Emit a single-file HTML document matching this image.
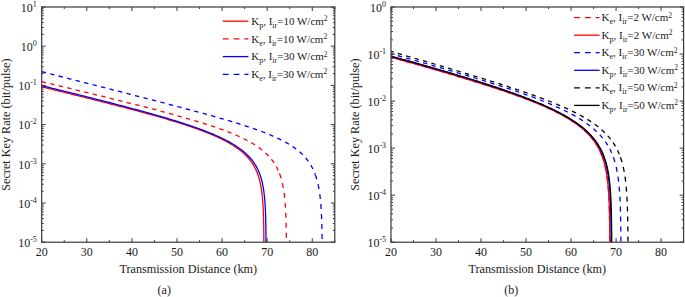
<!DOCTYPE html><html><head><meta charset="utf-8"><style>html,body{margin:0;padding:0;background:#fff;}svg{display:block;}</style></head><body>
<svg width="685" height="297" viewBox="0 0 685 297">
<rect width="685" height="297" fill="#fff"/>
<clipPath id="ca"><rect x="41.7" y="6.0" width="293.1" height="236.2"/></clipPath>
<g clip-path="url(#ca)" fill="none" stroke-linejoin="round">
<path d="M41.70,86.84 L43.45,87.27 L45.21,87.70 L46.96,88.12 L48.72,88.55 L50.47,88.98 L52.23,89.41 L53.98,89.83 L55.73,90.26 L57.49,90.69 L59.24,91.12 L61.00,91.55 L62.75,91.98 L64.51,92.41 L66.26,92.84 L68.01,93.27 L69.77,93.71 L71.52,94.14 L73.28,94.57 L75.03,95.00 L76.79,95.44 L78.54,95.87 L80.29,96.31 L82.05,96.74 L83.80,97.18 L85.56,97.61 L87.31,98.05 L89.07,98.49 L90.82,98.93 L92.57,99.37 L94.33,99.81 L96.08,100.25 L97.84,100.69 L99.59,101.13 L101.35,101.57 L103.10,102.02 L104.85,102.46 L106.61,102.91 L108.36,103.35 L110.12,103.80 L111.87,104.25 L113.62,104.70 L115.38,105.15 L117.13,105.60 L118.89,106.05 L120.64,106.51 L122.40,106.96 L124.15,107.42 L125.90,107.88 L127.66,108.34 L129.41,108.80 L131.17,109.26 L132.92,109.73 L134.68,110.20 L136.43,110.66 L138.18,111.13 L139.94,111.61 L141.69,112.08 L143.45,112.56 L145.20,113.04 L146.96,113.52 L148.71,114.00 L150.46,114.49 L152.22,114.98 L153.97,115.47 L155.73,115.96 L157.48,116.46 L159.24,116.96 L160.99,117.46 L162.74,117.97 L164.50,118.48 L166.25,119.00 L168.01,119.52 L169.76,120.04 L171.52,120.57 L173.27,121.10 L175.02,121.63 L176.78,122.17 L178.53,122.72 L180.29,123.27 L182.04,123.83 L183.80,124.40 L185.55,124.97 L187.30,125.55 L189.06,126.13 L190.81,126.72 L192.57,127.32 L194.32,127.93 L196.08,128.55 L197.83,129.18 L199.58,129.82 L201.34,130.47 L203.09,131.13 L204.85,131.80 L206.60,132.49 L208.36,133.19 L210.11,133.90 L211.86,134.63 L213.62,135.38 L215.37,136.15 L217.13,136.93 L218.88,137.74 L220.64,138.58 L222.39,139.43 L224.14,140.32 L225.90,141.24 L227.65,142.19 L229.41,143.18 L231.16,144.21 L232.91,145.28 L234.67,146.41 L236.42,147.60 L238.18,148.85 L239.93,150.18 L241.69,151.60 L243.44,153.11 L245.19,154.75 L246.95,156.53 L248.70,158.49 L250.46,160.67 L250.46,160.67 L251.51,162.11 L252.48,163.54 L253.38,164.97 L254.20,166.39 L254.96,167.80 L255.66,169.21 L256.31,170.61 L256.91,172.01 L257.46,173.41 L257.97,174.80 L258.44,176.19 L258.87,177.58 L259.27,178.96 L259.63,180.35 L259.97,181.72 L260.28,183.10 L260.57,184.48 L260.84,185.85 L261.08,187.22 L261.31,188.60 L261.52,189.97 L261.71,191.33 L261.89,192.70 L262.05,194.07 L262.20,195.43 L262.34,196.80 L262.47,198.16 L262.58,199.52 L262.69,200.89 L262.79,202.25 L262.89,203.61 L262.97,204.97 L263.05,206.33 L263.12,207.69 L263.19,209.05 L263.25,210.41 L263.31,211.77 L263.36,213.13 L263.41,214.48 L263.46,215.84 L263.50,217.20 L263.53,218.56 L263.57,219.91 L263.60,221.27 L263.63,222.63 L263.66,223.98 L263.68,225.34 L263.71,226.69 L263.73,228.05 L263.75,229.41 L263.77,230.76 L263.78,232.12 L263.80,233.47 L263.81,234.83 L263.83,236.18 L263.84,237.54 L263.85,238.89 L263.86,240.25 L263.87,241.60 L263.88,242.96" stroke="#ff0000" stroke-width="1.3"/>
<path d="M41.70,81.58 L43.64,82.05 L45.59,82.52 L47.53,82.99 L49.48,83.46 L51.42,83.93 L53.36,84.40 L55.31,84.87 L57.25,85.34 L59.20,85.81 L61.14,86.28 L63.08,86.75 L65.03,87.22 L66.97,87.69 L68.91,88.17 L70.86,88.64 L72.80,89.11 L74.75,89.58 L76.69,90.06 L78.63,90.53 L80.58,91.00 L82.52,91.48 L84.47,91.95 L86.41,92.43 L88.35,92.90 L90.30,93.38 L92.24,93.85 L94.19,94.33 L96.13,94.81 L98.07,95.28 L100.02,95.76 L101.96,96.24 L103.90,96.72 L105.85,97.20 L107.79,97.68 L109.74,98.16 L111.68,98.64 L113.62,99.12 L115.57,99.61 L117.51,100.09 L119.46,100.57 L121.40,101.06 L123.34,101.54 L125.29,102.03 L127.23,102.52 L129.18,103.01 L131.12,103.50 L133.06,103.99 L135.01,104.48 L136.95,104.98 L138.89,105.47 L140.84,105.97 L142.78,106.46 L144.73,106.96 L146.67,107.46 L148.61,107.97 L150.56,108.47 L152.50,108.98 L154.45,109.48 L156.39,109.99 L158.33,110.50 L160.28,111.02 L162.22,111.53 L164.17,112.05 L166.11,112.57 L168.05,113.10 L170.00,113.62 L171.94,114.15 L173.88,114.69 L175.83,115.22 L177.77,115.76 L179.72,116.30 L181.66,116.85 L183.60,117.40 L185.55,117.96 L187.49,118.51 L189.44,119.08 L191.38,119.65 L193.32,120.22 L195.27,120.80 L197.21,121.39 L199.16,121.98 L201.10,122.58 L203.04,123.18 L204.99,123.79 L206.93,124.42 L208.87,125.04 L210.82,125.68 L212.76,126.33 L214.71,126.99 L216.65,127.66 L218.59,128.34 L220.54,129.03 L222.48,129.73 L224.43,130.45 L226.37,131.19 L228.31,131.94 L230.26,132.71 L232.20,133.50 L234.15,134.31 L236.09,135.14 L238.03,135.99 L239.98,136.87 L241.92,137.79 L243.86,138.73 L245.81,139.71 L247.75,140.72 L249.70,141.79 L251.64,142.89 L253.58,144.06 L255.53,145.28 L257.47,146.57 L259.42,147.95 L261.36,149.41 L263.30,150.98 L265.25,152.67 L267.19,154.52 L269.14,156.55 L271.08,158.80 L273.02,161.35 L273.02,161.35 L274.08,162.87 L275.05,164.40 L275.94,165.92 L276.77,167.43 L277.53,168.95 L278.23,170.46 L278.88,171.97 L279.47,173.47" stroke="#ff0000" stroke-width="1.3" stroke-dasharray="4.4 4.35" stroke-dashoffset="0"/>
<path d="M279.47,173.47 L280.03,174.98 L280.53,176.48 L281.00,177.98 L281.43,179.48 L281.83,180.98 L282.20,182.47 L282.54,183.97 L282.85,185.46 L283.14,186.96 L283.40,188.45 L283.65,189.94 L283.87,191.43 L284.08,192.92 L284.27,194.41 L284.45,195.90 L284.61,197.39 L284.77,198.88 L284.90,200.37 L285.03,201.86 L285.15,203.35 L285.26,204.83 L285.36,206.32 L285.45,207.81 L285.54,209.29 L285.62,210.78 L285.69,212.27 L285.76,213.75 L285.82,215.24 L285.88,216.72 L285.93,218.21 L285.98,219.69 L286.02,221.18 L286.06,222.66 L286.10,224.15 L286.14,225.63 L286.17,227.12 L286.20,228.60 L286.23,230.09 L286.25,231.57 L286.27,233.06 L286.30,234.54 L286.32,236.03 L286.33,237.51 L286.35,238.99 L286.37,240.48 L286.38,241.96 L286.39,243.45" stroke="#ff0000" stroke-width="1.3" stroke-dasharray="5 5" stroke-dashoffset="0"/>
<path d="M41.70,85.68 L43.47,86.11 L45.24,86.55 L47.02,86.98 L48.79,87.42 L50.56,87.85 L52.33,88.29 L54.11,88.72 L55.88,89.16 L57.65,89.60 L59.42,90.03 L61.20,90.47 L62.97,90.91 L64.74,91.35 L66.51,91.79 L68.29,92.23 L70.06,92.67 L71.83,93.11 L73.60,93.55 L75.38,93.99 L77.15,94.43 L78.92,94.87 L80.69,95.32 L82.47,95.76 L84.24,96.21 L86.01,96.65 L87.78,97.10 L89.56,97.54 L91.33,97.99 L93.10,98.44 L94.87,98.89 L96.65,99.33 L98.42,99.78 L100.19,100.24 L101.96,100.69 L103.73,101.14 L105.51,101.59 L107.28,102.05 L109.05,102.50 L110.82,102.96 L112.60,103.42 L114.37,103.88 L116.14,104.34 L117.91,104.80 L119.69,105.26 L121.46,105.73 L123.23,106.19 L125.00,106.66 L126.78,107.13 L128.55,107.60 L130.32,108.07 L132.09,108.54 L133.87,109.02 L135.64,109.49 L137.41,109.97 L139.18,110.45 L140.96,110.94 L142.73,111.42 L144.50,111.91 L146.27,112.40 L148.05,112.89 L149.82,113.38 L151.59,113.88 L153.36,114.38 L155.14,114.88 L156.91,115.39 L158.68,115.90 L160.45,116.41 L162.23,116.92 L164.00,117.44 L165.77,117.97 L167.54,118.49 L169.31,119.02 L171.09,119.56 L172.86,120.10 L174.63,120.64 L176.40,121.19 L178.18,121.74 L179.95,122.30 L181.72,122.87 L183.49,123.44 L185.27,124.01 L187.04,124.60 L188.81,125.19 L190.58,125.79 L192.36,126.39 L194.13,127.01 L195.90,127.63 L197.67,128.26 L199.45,128.90 L201.22,129.56 L202.99,130.22 L204.76,130.89 L206.54,131.58 L208.31,132.28 L210.08,132.99 L211.85,133.72 L213.63,134.47 L215.40,135.23 L217.17,136.02 L218.94,136.82 L220.72,137.64 L222.49,138.49 L224.26,139.37 L226.03,140.27 L227.80,141.20 L229.58,142.17 L231.35,143.18 L233.12,144.22 L234.89,145.32 L236.67,146.46 L238.44,147.67 L240.21,148.94 L241.98,150.29 L243.76,151.73 L245.53,153.27 L247.30,154.93 L249.07,156.74 L250.85,158.73 L252.62,160.94 L252.62,160.94 L253.67,162.38 L254.64,163.82 L255.54,165.25 L256.36,166.67 L257.12,168.08 L257.83,169.50 L258.47,170.90 L259.07,172.30 L259.62,173.70 L260.13,175.09 L260.60,176.48 L261.03,177.87 L261.43,179.26 L261.79,180.64 L262.13,182.02 L262.44,183.39 L262.73,184.77 L263.00,186.14 L263.24,187.51 L263.47,188.88 L263.68,190.25 L263.87,191.61 L264.05,192.98 L264.21,194.34 L264.36,195.70 L264.50,197.07 L264.63,198.43 L264.75,199.79 L264.86,201.15 L264.96,202.50 L265.05,203.86 L265.13,205.22 L265.21,206.58 L265.29,207.93 L265.35,209.29 L265.41,210.64 L265.47,212.00 L265.52,213.35 L265.57,214.71 L265.62,216.06 L265.66,217.42 L265.70,218.77 L265.73,220.12 L265.76,221.47 L265.79,222.83 L265.82,224.18 L265.85,225.53 L265.87,226.88 L265.89,228.24 L265.91,229.59 L265.93,230.94 L265.95,232.29 L265.96,233.64 L265.98,234.99 L265.99,236.34 L266.00,237.70 L266.01,239.05 L266.02,240.40 L266.03,241.75 L266.04,243.10" stroke="#0000ff" stroke-width="1.3"/>
<path d="M41.70,71.68 L43.94,72.25 L46.19,72.82 L48.43,73.39 L50.68,73.96 L52.92,74.54 L55.17,75.11 L57.41,75.68 L59.66,76.25 L61.90,76.83 L64.15,77.40 L66.39,77.97 L68.64,78.54 L70.88,79.12 L73.13,79.69 L75.37,80.26 L77.62,80.83 L79.86,81.41 L82.11,81.98 L84.35,82.55 L86.60,83.12 L88.84,83.70 L91.08,84.27 L93.33,84.84 L95.57,85.42 L97.82,85.99 L100.06,86.57 L102.31,87.14 L104.55,87.71 L106.80,88.29 L109.04,88.86 L111.29,89.44 L113.53,90.01 L115.78,90.59 L118.02,91.16 L120.27,91.74 L122.51,92.31 L124.76,92.89 L127.00,93.46 L129.25,94.04 L131.49,94.62 L133.74,95.19 L135.98,95.77 L138.22,96.35 L140.47,96.93 L142.71,97.51 L144.96,98.09 L147.20,98.67 L149.45,99.25 L151.69,99.83 L153.94,100.41 L156.18,100.99 L158.43,101.58 L160.67,102.16 L162.92,102.74 L165.16,103.33 L167.41,103.92 L169.65,104.50 L171.90,105.09 L174.14,105.68 L176.39,106.27 L178.63,106.86 L180.88,107.46 L183.12,108.05 L185.36,108.65 L187.61,109.25 L189.85,109.85 L192.10,110.45 L194.34,111.05 L196.59,111.66 L198.83,112.27 L201.08,112.88 L203.32,113.49 L205.57,114.11 L207.81,114.73 L210.06,115.35 L212.30,115.98 L214.55,116.61 L216.79,117.24 L219.04,117.88 L221.28,118.53 L223.53,119.18 L225.77,119.83 L228.01,120.49 L230.26,121.16 L232.50,121.83 L234.75,122.51 L236.99,123.20 L239.24,123.89 L241.48,124.60 L243.73,125.31 L245.97,126.04 L248.22,126.78 L250.46,127.53 L252.71,128.29 L254.95,129.07 L257.20,129.87 L259.44,130.68 L261.69,131.51 L263.93,132.36 L266.18,133.24 L268.42,134.14 L270.67,135.07 L272.91,136.03 L275.15,137.02 L277.40,138.05 L279.64,139.13 L281.89,140.25 L284.13,141.43 L286.38,142.67 L288.62,143.98 L290.87,145.37 L293.11,146.85 L295.36,148.44 L297.60,150.16 L299.85,152.04 L302.09,154.10 L304.34,156.40 L306.58,159.00 L308.83,161.99 L308.83,161.99 L309.88,163.57 L310.85,165.15 L311.74,166.72 L312.57,168.30 L313.33,169.87 L314.03,171.45 L314.68,173.03 L315.28,174.60" stroke="#0000ff" stroke-width="1.3" stroke-dasharray="4.4 4.35" stroke-dashoffset="0"/>
<path d="M315.28,174.60 L315.83,176.18 L316.34,177.76 L316.80,179.33 L317.24,180.91 L317.63,182.49 L318.00,184.07 L318.34,185.64 L318.65,187.22 L318.94,188.80 L319.21,190.38 L319.45,191.96 L319.68,193.54 L319.88,195.12 L320.08,196.70 L320.25,198.28 L320.42,199.86 L320.57,201.44 L320.71,203.03 L320.84,204.61 L320.95,206.19 L321.06,207.77 L321.16,209.35 L321.26,210.94 L321.34,212.52 L321.42,214.10 L321.49,215.69 L321.56,217.27 L321.62,218.85 L321.68,220.43 L321.73,222.02 L321.78,223.60 L321.82,225.19 L321.87,226.77 L321.90,228.35 L321.94,229.94 L321.97,231.52 L322.00,233.10 L322.03,234.69 L322.05,236.27 L322.08,237.86 L322.10,239.44 L322.12,241.02 L322.14,242.61 L322.15,244.19" stroke="#0000ff" stroke-width="1.3" stroke-dasharray="5 5" stroke-dashoffset="0"/>
</g>
<rect x="41.7" y="7.0" width="293.1" height="235.2" fill="none" stroke="#3a3a3a" stroke-width="1.2"/>
<path d="M41.70,242.2v-4M41.70,7.0v4M64.25,242.2v-2M64.25,7.0v2M86.79,242.2v-4M86.79,7.0v4M109.34,242.2v-2M109.34,7.0v2M131.88,242.2v-4M131.88,7.0v4M154.43,242.2v-2M154.43,7.0v2M176.98,242.2v-4M176.98,7.0v4M199.52,242.2v-2M199.52,7.0v2M222.07,242.2v-4M222.07,7.0v4M244.62,242.2v-2M244.62,7.0v2M267.16,242.2v-4M267.16,7.0v4M289.71,242.2v-2M289.71,7.0v2M312.25,242.2v-4M312.25,7.0v4M334.80,242.2v-2M334.80,7.0v2M41.7,242.20h4M334.8,242.20h-4M41.7,230.40h2M334.8,230.40h-2M41.7,223.50h2M334.8,223.50h-2M41.7,218.60h2M334.8,218.60h-2M41.7,214.80h2M334.8,214.80h-2M41.7,211.70h2M334.8,211.70h-2M41.7,209.07h2M334.8,209.07h-2M41.7,206.80h2M334.8,206.80h-2M41.7,204.79h2M334.8,204.79h-2M41.7,203.00h4M334.8,203.00h-4M41.7,191.20h2M334.8,191.20h-2M41.7,184.30h2M334.8,184.30h-2M41.7,179.40h2M334.8,179.40h-2M41.7,175.60h2M334.8,175.60h-2M41.7,172.50h2M334.8,172.50h-2M41.7,169.87h2M334.8,169.87h-2M41.7,167.60h2M334.8,167.60h-2M41.7,165.59h2M334.8,165.59h-2M41.7,163.80h4M334.8,163.80h-4M41.7,152.00h2M334.8,152.00h-2M41.7,145.10h2M334.8,145.10h-2M41.7,140.20h2M334.8,140.20h-2M41.7,136.40h2M334.8,136.40h-2M41.7,133.30h2M334.8,133.30h-2M41.7,130.67h2M334.8,130.67h-2M41.7,128.40h2M334.8,128.40h-2M41.7,126.39h2M334.8,126.39h-2M41.7,124.60h4M334.8,124.60h-4M41.7,112.80h2M334.8,112.80h-2M41.7,105.90h2M334.8,105.90h-2M41.7,101.00h2M334.8,101.00h-2M41.7,97.20h2M334.8,97.20h-2M41.7,94.10h2M334.8,94.10h-2M41.7,91.47h2M334.8,91.47h-2M41.7,89.20h2M334.8,89.20h-2M41.7,87.19h2M334.8,87.19h-2M41.7,85.40h4M334.8,85.40h-4M41.7,73.60h2M334.8,73.60h-2M41.7,66.70h2M334.8,66.70h-2M41.7,61.80h2M334.8,61.80h-2M41.7,58.00h2M334.8,58.00h-2M41.7,54.90h2M334.8,54.90h-2M41.7,52.27h2M334.8,52.27h-2M41.7,50.00h2M334.8,50.00h-2M41.7,47.99h2M334.8,47.99h-2M41.7,46.20h4M334.8,46.20h-4M41.7,34.40h2M334.8,34.40h-2M41.7,27.50h2M334.8,27.50h-2M41.7,22.60h2M334.8,22.60h-2M41.7,18.80h2M334.8,18.80h-2M41.7,15.70h2M334.8,15.70h-2M41.7,13.07h2M334.8,13.07h-2M41.7,10.80h2M334.8,10.80h-2M41.7,8.79h2M334.8,8.79h-2M41.7,7.00h4M334.8,7.00h-4" stroke="#3a3a3a" stroke-width="1.0" fill="none"/>
<text x="41.70" y="256.3" font-family="Liberation Serif, serif" font-size="12" text-anchor="middle" fill="#1a1a1a">20</text>
<text x="86.79" y="256.3" font-family="Liberation Serif, serif" font-size="12" text-anchor="middle" fill="#1a1a1a">30</text>
<text x="131.88" y="256.3" font-family="Liberation Serif, serif" font-size="12" text-anchor="middle" fill="#1a1a1a">40</text>
<text x="176.98" y="256.3" font-family="Liberation Serif, serif" font-size="12" text-anchor="middle" fill="#1a1a1a">50</text>
<text x="222.07" y="256.3" font-family="Liberation Serif, serif" font-size="12" text-anchor="middle" fill="#1a1a1a">60</text>
<text x="267.16" y="256.3" font-family="Liberation Serif, serif" font-size="12" text-anchor="middle" fill="#1a1a1a">70</text>
<text x="312.25" y="256.3" font-family="Liberation Serif, serif" font-size="12" text-anchor="middle" fill="#1a1a1a">80</text>
<text x="36.800000000000004" y="246.90" font-family="Liberation Serif, serif" font-size="12" text-anchor="end" fill="#1a1a1a">10<tspan font-size="8" dy="-5.0">-5</tspan></text>
<text x="36.800000000000004" y="207.70" font-family="Liberation Serif, serif" font-size="12" text-anchor="end" fill="#1a1a1a">10<tspan font-size="8" dy="-5.0">-4</tspan></text>
<text x="36.800000000000004" y="168.50" font-family="Liberation Serif, serif" font-size="12" text-anchor="end" fill="#1a1a1a">10<tspan font-size="8" dy="-5.0">-3</tspan></text>
<text x="36.800000000000004" y="129.30" font-family="Liberation Serif, serif" font-size="12" text-anchor="end" fill="#1a1a1a">10<tspan font-size="8" dy="-5.0">-2</tspan></text>
<text x="36.800000000000004" y="90.10" font-family="Liberation Serif, serif" font-size="12" text-anchor="end" fill="#1a1a1a">10<tspan font-size="8" dy="-5.0">-1</tspan></text>
<text x="36.800000000000004" y="50.90" font-family="Liberation Serif, serif" font-size="12" text-anchor="end" fill="#1a1a1a">10<tspan font-size="8" dy="-5.0">0</tspan></text>
<text x="36.800000000000004" y="11.70" font-family="Liberation Serif, serif" font-size="12" text-anchor="end" fill="#1a1a1a">10<tspan font-size="8" dy="-5.0">1</tspan></text>
<text x="188.25" y="272.7" font-family="Liberation Serif, serif" font-size="12.2" text-anchor="middle" fill="#1a1a1a">Transmission Distance (km)</text>
<text transform="translate(10.0,124.6) rotate(-90)" font-family="Liberation Serif, serif" font-size="12.2" text-anchor="middle" fill="#1a1a1a">Secret Key Rate (bit/pulse)</text>
<text x="164.25" y="293.7" font-family="Liberation Serif, serif" font-size="12" text-anchor="middle" fill="#1a1a1a">(a)</text>
<path d="M222.8,21.20H248.4" stroke="#ff0000" stroke-width="1.3"/>
<text x="251.2" y="24.80" font-family="Liberation Serif, serif" font-size="11" fill="#1a1a1a">K<tspan font-size="8" dy="3">p</tspan><tspan dy="-3">, I</tspan><tspan font-size="8" dy="3">ir</tspan><tspan dy="-3">=10 W/cm</tspan><tspan font-size="7.6" dy="-3.7">2</tspan></text>
<path d="M222.8,38.90H248.4" stroke="#ff0000" stroke-width="1.3" stroke-dasharray="5.8 5"/>
<text x="251.2" y="42.50" font-family="Liberation Serif, serif" font-size="11" fill="#1a1a1a">K<tspan font-size="8" dy="3">e</tspan><tspan dy="-3">, I</tspan><tspan font-size="8" dy="3">ir</tspan><tspan dy="-3">=10 W/cm</tspan><tspan font-size="7.6" dy="-3.7">2</tspan></text>
<path d="M222.8,56.60H248.4" stroke="#0000ff" stroke-width="1.3"/>
<text x="251.2" y="60.20" font-family="Liberation Serif, serif" font-size="11" fill="#1a1a1a">K<tspan font-size="8" dy="3">p</tspan><tspan dy="-3">, I</tspan><tspan font-size="8" dy="3">ir</tspan><tspan dy="-3">=30 W/cm</tspan><tspan font-size="7.6" dy="-3.7">2</tspan></text>
<path d="M222.8,74.30H248.4" stroke="#0000ff" stroke-width="1.3" stroke-dasharray="5.8 5"/>
<text x="251.2" y="77.90" font-family="Liberation Serif, serif" font-size="11" fill="#1a1a1a">K<tspan font-size="8" dy="3">e</tspan><tspan dy="-3">, I</tspan><tspan font-size="8" dy="3">ir</tspan><tspan dy="-3">=30 W/cm</tspan><tspan font-size="7.6" dy="-3.7">2</tspan></text>
<clipPath id="cb"><rect x="391.0" y="6.0" width="292.6" height="236.2"/></clipPath>
<g clip-path="url(#cb)" fill="none" stroke-linejoin="round">
<path d="M391.00,57.15 L392.73,57.64 L394.45,58.12 L396.18,58.61 L397.90,59.09 L399.63,59.58 L401.36,60.06 L403.08,60.55 L404.81,61.03 L406.54,61.52 L408.26,62.01 L409.99,62.50 L411.71,62.99 L413.44,63.48 L415.17,63.97 L416.89,64.46 L418.62,64.95 L420.34,65.45 L422.07,65.94 L423.80,66.43 L425.52,66.93 L427.25,67.43 L428.98,67.92 L430.70,68.42 L432.43,68.92 L434.15,69.42 L435.88,69.92 L437.61,70.42 L439.33,70.92 L441.06,71.43 L442.78,71.93 L444.51,72.44 L446.24,72.95 L447.96,73.46 L449.69,73.97 L451.42,74.48 L453.14,74.99 L454.87,75.50 L456.59,76.02 L458.32,76.54 L460.05,77.06 L461.77,77.58 L463.50,78.10 L465.22,78.62 L466.95,79.15 L468.68,79.68 L470.40,80.21 L472.13,80.74 L473.86,81.27 L475.58,81.81 L477.31,82.34 L479.03,82.88 L480.76,83.43 L482.49,83.97 L484.21,84.52 L485.94,85.07 L487.66,85.62 L489.39,86.18 L491.12,86.74 L492.84,87.30 L494.57,87.87 L496.30,88.43 L498.02,89.01 L499.75,89.58 L501.47,90.16 L503.20,90.74 L504.93,91.33 L506.65,91.92 L508.38,92.52 L510.10,93.12 L511.83,93.73 L513.56,94.34 L515.28,94.95 L517.01,95.57 L518.74,96.20 L520.46,96.83 L522.19,97.47 L523.91,98.12 L525.64,98.77 L527.37,99.43 L529.09,100.10 L530.82,100.77 L532.54,101.46 L534.27,102.15 L536.00,102.85 L537.72,103.56 L539.45,104.29 L541.18,105.02 L542.90,105.76 L544.63,106.52 L546.35,107.29 L548.08,108.07 L549.81,108.86 L551.53,109.68 L553.26,110.50 L554.98,111.35 L556.71,112.21 L558.44,113.10 L560.16,114.00 L561.89,114.93 L563.62,115.88 L565.34,116.86 L567.07,117.87 L568.79,118.91 L570.52,119.98 L572.25,121.10 L573.97,122.25 L575.70,123.44 L577.42,124.69 L579.15,125.99 L580.88,127.36 L582.60,128.79 L584.33,130.31 L586.05,131.91 L587.78,133.62 L589.51,135.45 L591.23,137.43 L592.96,139.57 L594.69,141.92 L596.41,144.53 L596.41,144.53 L597.46,146.28 L598.43,148.02 L599.33,149.74 L600.15,151.46 L600.91,153.18 L601.61,154.88 L602.26,156.58" stroke="#ff0000" stroke-width="1.3" stroke-dasharray="4.4 4.35" stroke-dashoffset="1.7"/>
<path d="M602.26,156.58 L602.85,158.28 L603.40,159.97 L603.91,161.65 L604.38,163.33 L604.81,165.01 L605.20,166.68 L605.57,168.35 L605.91,170.02 L606.22,171.68 L606.51,173.34 L606.77,175.00 L607.02,176.66 L607.24,178.31 L607.45,179.97 L607.64,181.62 L607.82,183.27 L607.98,184.91 L608.13,186.56 L608.27,188.21 L608.40,189.85 L608.52,191.49 L608.63,193.14 L608.73,194.78 L608.82,196.42 L608.91,198.06 L608.98,199.70 L609.06,201.34 L609.12,202.97 L609.19,204.61 L609.24,206.25 L609.29,207.88 L609.34,209.52 L609.39,211.16 L609.43,212.79 L609.47,214.43 L609.50,216.06 L609.53,217.69 L609.56,219.33 L609.59,220.96 L609.62,222.60 L609.64,224.23 L609.66,225.86 L609.68,227.50 L609.70,229.13 L609.72,230.76 L609.73,232.39 L609.75,234.03 L609.76,235.66 L609.77,237.29 L609.78,238.92 L609.79,240.55 L609.80,242.19 L609.81,243.82" stroke="#ff0000" stroke-width="1.3" stroke-dasharray="5 5" stroke-dashoffset="0"/>
<path d="M391.00,57.15 L392.73,57.64 L394.45,58.12 L396.18,58.61 L397.90,59.09 L399.63,59.58 L401.36,60.06 L403.08,60.55 L404.81,61.03 L406.54,61.52 L408.26,62.01 L409.99,62.50 L411.71,62.99 L413.44,63.48 L415.17,63.97 L416.89,64.46 L418.62,64.95 L420.34,65.45 L422.07,65.94 L423.80,66.43 L425.52,66.93 L427.25,67.43 L428.98,67.92 L430.70,68.42 L432.43,68.92 L434.15,69.42 L435.88,69.92 L437.61,70.42 L439.33,70.92 L441.06,71.43 L442.78,71.93 L444.51,72.44 L446.24,72.95 L447.96,73.46 L449.69,73.97 L451.42,74.48 L453.14,74.99 L454.87,75.50 L456.59,76.02 L458.32,76.54 L460.05,77.06 L461.77,77.58 L463.50,78.10 L465.22,78.62 L466.95,79.15 L468.68,79.68 L470.40,80.21 L472.13,80.74 L473.86,81.27 L475.58,81.81 L477.31,82.34 L479.03,82.88 L480.76,83.43 L482.49,83.97 L484.21,84.52 L485.94,85.07 L487.66,85.62 L489.39,86.18 L491.12,86.74 L492.84,87.30 L494.57,87.87 L496.30,88.43 L498.02,89.01 L499.75,89.58 L501.47,90.16 L503.20,90.74 L504.93,91.33 L506.65,91.92 L508.38,92.52 L510.10,93.12 L511.83,93.73 L513.56,94.34 L515.28,94.95 L517.01,95.57 L518.74,96.20 L520.46,96.83 L522.19,97.47 L523.91,98.12 L525.64,98.77 L527.37,99.43 L529.09,100.10 L530.82,100.77 L532.54,101.46 L534.27,102.15 L536.00,102.85 L537.72,103.56 L539.45,104.29 L541.18,105.02 L542.90,105.76 L544.63,106.52 L546.35,107.29 L548.08,108.07 L549.81,108.86 L551.53,109.68 L553.26,110.50 L554.98,111.35 L556.71,112.21 L558.44,113.10 L560.16,114.00 L561.89,114.93 L563.62,115.88 L565.34,116.86 L567.07,117.87 L568.79,118.91 L570.52,119.98 L572.25,121.10 L573.97,122.25 L575.70,123.44 L577.42,124.69 L579.15,125.99 L580.88,127.36 L582.60,128.79 L584.33,130.31 L586.05,131.91 L587.78,133.62 L589.51,135.45 L591.23,137.43 L592.96,139.57 L594.69,141.92 L596.41,144.53 L596.41,144.53 L597.46,146.28 L598.43,148.02 L599.33,149.74 L600.15,151.46 L600.91,153.18 L601.61,154.88 L602.26,156.58 L602.85,158.28 L603.40,159.97 L603.91,161.65 L604.38,163.33 L604.81,165.01 L605.20,166.68 L605.57,168.35 L605.91,170.02 L606.22,171.68 L606.51,173.34 L606.77,175.00 L607.02,176.66 L607.24,178.31 L607.45,179.97 L607.64,181.62 L607.82,183.27 L607.98,184.91 L608.13,186.56 L608.27,188.21 L608.40,189.85 L608.52,191.49 L608.63,193.14 L608.73,194.78 L608.82,196.42 L608.91,198.06 L608.98,199.70 L609.06,201.34 L609.12,202.97 L609.19,204.61 L609.24,206.25 L609.29,207.88 L609.34,209.52 L609.39,211.16 L609.43,212.79 L609.47,214.43 L609.50,216.06 L609.53,217.69 L609.56,219.33 L609.59,220.96 L609.62,222.60 L609.64,224.23 L609.66,225.86 L609.68,227.50 L609.70,229.13 L609.72,230.76 L609.73,232.39 L609.75,234.03 L609.76,235.66 L609.77,237.29 L609.78,238.92 L609.79,240.55 L609.80,242.19 L609.81,243.82" stroke="#ff0000" stroke-width="1.3"/>
<path d="M391.00,53.71 L392.82,54.22 L394.64,54.73 L396.46,55.24 L398.28,55.75 L400.10,56.26 L401.92,56.78 L403.74,57.29 L405.56,57.81 L407.38,58.32 L409.20,58.84 L411.02,59.35 L412.84,59.87 L414.66,60.38 L416.48,60.90 L418.29,61.42 L420.11,61.94 L421.93,62.46 L423.75,62.98 L425.57,63.50 L427.39,64.02 L429.21,64.54 L431.03,65.07 L432.85,65.59 L434.67,66.11 L436.49,66.64 L438.31,67.17 L440.13,67.69 L441.95,68.22 L443.77,68.75 L445.59,69.28 L447.41,69.81 L449.23,70.35 L451.05,70.88 L452.87,71.42 L454.69,71.95 L456.51,72.49 L458.33,73.03 L460.15,73.57 L461.97,74.11 L463.79,74.65 L465.61,75.20 L467.43,75.74 L469.25,76.29 L471.07,76.84 L472.88,77.39 L474.70,77.95 L476.52,78.50 L478.34,79.06 L480.16,79.62 L481.98,80.18 L483.80,80.74 L485.62,81.31 L487.44,81.88 L489.26,82.45 L491.08,83.02 L492.90,83.60 L494.72,84.17 L496.54,84.76 L498.36,85.34 L500.18,85.93 L502.00,86.52 L503.82,87.11 L505.64,87.71 L507.46,88.31 L509.28,88.92 L511.10,89.53 L512.92,90.14 L514.74,90.76 L516.56,91.38 L518.38,92.01 L520.20,92.64 L522.02,93.28 L523.84,93.93 L525.66,94.57 L527.47,95.23 L529.29,95.89 L531.11,96.56 L532.93,97.23 L534.75,97.92 L536.57,98.61 L538.39,99.30 L540.21,100.01 L542.03,100.73 L543.85,101.45 L545.67,102.19 L547.49,102.93 L549.31,103.69 L551.13,104.45 L552.95,105.23 L554.77,106.03 L556.59,106.84 L558.41,107.66 L560.23,108.50 L562.05,109.35 L563.87,110.22 L565.69,111.12 L567.51,112.03 L569.33,112.96 L571.15,113.92 L572.97,114.91 L574.79,115.92 L576.61,116.96 L578.43,118.04 L580.25,119.15 L582.06,120.31 L583.88,121.50 L585.70,122.74 L587.52,124.04 L589.34,125.40 L591.16,126.82 L592.98,128.32 L594.80,129.90 L596.62,131.58 L598.44,133.38 L600.26,135.31 L602.08,137.39 L603.90,139.67 L605.72,142.17 L607.54,144.97 L607.54,144.97 L608.59,146.75 L609.56,148.53 L610.45,150.29 L611.28,152.05 L612.04,153.80 L612.74,155.55 L613.38,157.28" stroke="#0000ff" stroke-width="1.3" stroke-dasharray="4.4 4.35" stroke-dashoffset="1.7"/>
<path d="M613.38,157.28 L613.98,159.02 L614.53,160.75 L615.04,162.47 L615.50,164.19 L615.94,165.91 L616.33,167.63 L616.70,169.34 L617.04,171.05 L617.35,172.75 L617.64,174.46 L617.90,176.16 L618.15,177.86 L618.37,179.55 L618.58,181.25 L618.77,182.95 L618.95,184.64 L619.11,186.33 L619.26,188.02 L619.40,189.71 L619.53,191.40 L619.65,193.09 L619.76,194.77 L619.86,196.46 L619.95,198.14 L620.03,199.83 L620.11,201.51 L620.18,203.19 L620.25,204.88 L620.31,206.56 L620.37,208.24 L620.42,209.92 L620.47,211.60 L620.52,213.28 L620.56,214.96 L620.59,216.64 L620.63,218.32 L620.66,220.00 L620.69,221.68 L620.72,223.36 L620.74,225.04 L620.77,226.72 L620.79,228.39 L620.81,230.07 L620.83,231.75 L620.84,233.43 L620.86,235.10 L620.87,236.78 L620.89,238.46 L620.90,240.14 L620.91,241.81 L620.92,243.49" stroke="#0000ff" stroke-width="1.3" stroke-dasharray="5 5" stroke-dashoffset="0"/>
<path d="M391.00,56.39 L392.74,56.87 L394.47,57.35 L396.21,57.83 L397.95,58.31 L399.69,58.80 L401.42,59.28 L403.16,59.77 L404.90,60.25 L406.64,60.74 L408.37,61.22 L410.11,61.71 L411.85,62.20 L413.59,62.69 L415.32,63.18 L417.06,63.67 L418.80,64.16 L420.54,64.66 L422.27,65.15 L424.01,65.64 L425.75,66.14 L427.49,66.64 L429.22,67.13 L430.96,67.63 L432.70,68.13 L434.44,68.63 L436.17,69.14 L437.91,69.64 L439.65,70.14 L441.39,70.65 L443.12,71.16 L444.86,71.67 L446.60,72.18 L448.34,72.69 L450.07,73.20 L451.81,73.71 L453.55,74.23 L455.29,74.75 L457.02,75.27 L458.76,75.79 L460.50,76.31 L462.23,76.83 L463.97,77.36 L465.71,77.89 L467.45,78.42 L469.18,78.95 L470.92,79.49 L472.66,80.02 L474.40,80.56 L476.13,81.10 L477.87,81.65 L479.61,82.20 L481.35,82.74 L483.08,83.30 L484.82,83.85 L486.56,84.41 L488.30,84.97 L490.03,85.53 L491.77,86.10 L493.51,86.67 L495.25,87.24 L496.98,87.82 L498.72,88.40 L500.46,88.99 L502.20,89.58 L503.93,90.17 L505.67,90.77 L507.41,91.37 L509.15,91.97 L510.88,92.58 L512.62,93.20 L514.36,93.82 L516.10,94.45 L517.83,95.08 L519.57,95.72 L521.31,96.37 L523.05,97.02 L524.78,97.68 L526.52,98.34 L528.26,99.01 L530.00,99.69 L531.73,100.38 L533.47,101.08 L535.21,101.79 L536.94,102.50 L538.68,103.23 L540.42,103.96 L542.16,104.71 L543.89,105.47 L545.63,106.24 L547.37,107.02 L549.11,107.82 L550.84,108.63 L552.58,109.46 L554.32,110.30 L556.06,111.17 L557.79,112.05 L559.53,112.95 L561.27,113.87 L563.01,114.81 L564.74,115.78 L566.48,116.78 L568.22,117.80 L569.96,118.86 L571.69,119.95 L573.43,121.08 L575.17,122.25 L576.91,123.46 L578.64,124.73 L580.38,126.04 L582.12,127.43 L583.86,128.88 L585.59,130.41 L587.33,132.03 L589.07,133.75 L590.81,135.60 L592.54,137.58 L594.28,139.74 L596.02,142.11 L597.76,144.74 L597.76,144.74 L598.81,146.48 L599.77,148.21 L600.67,149.93 L601.49,151.64 L602.25,153.35 L602.95,155.04 L603.60,156.73 L604.20,158.42 L604.75,160.09 L605.25,161.77 L605.72,163.43 L606.15,165.09 L606.55,166.75 L606.91,168.41 L607.25,170.06 L607.56,171.70 L607.85,173.35 L608.12,174.99 L608.36,176.63 L608.59,178.26 L608.79,179.90 L608.99,181.53 L609.16,183.16 L609.33,184.79 L609.48,186.41 L609.62,188.04 L609.74,189.66 L609.86,191.29 L609.97,192.91 L610.07,194.53 L610.16,196.15 L610.25,197.77 L610.33,199.38 L610.40,201.00 L610.47,202.62 L610.53,204.23 L610.59,205.85 L610.64,207.46 L610.69,209.08 L610.73,210.69 L610.77,212.30 L610.81,213.92 L610.84,215.53 L610.88,217.14 L610.91,218.75 L610.93,220.36 L610.96,221.97 L610.98,223.58 L611.00,225.20 L611.02,226.81 L611.04,228.42 L611.06,230.03 L611.08,231.64 L611.09,233.25 L611.10,234.86 L611.12,236.47 L611.13,238.07 L611.14,239.68 L611.15,241.29 L611.16,242.90" stroke="#0000ff" stroke-width="1.3"/>
<path d="M391.00,51.41 L392.88,51.95 L394.76,52.49 L396.64,53.04 L398.52,53.58 L400.39,54.13 L402.27,54.67 L404.15,55.22 L406.03,55.76 L407.91,56.31 L409.79,56.86 L411.67,57.40 L413.55,57.95 L415.43,58.50 L417.30,59.05 L419.18,59.59 L421.06,60.14 L422.94,60.69 L424.82,61.24 L426.70,61.79 L428.58,62.34 L430.46,62.89 L432.34,63.45 L434.22,64.00 L436.09,64.55 L437.97,65.10 L439.85,65.66 L441.73,66.21 L443.61,66.77 L445.49,67.33 L447.37,67.88 L449.25,68.44 L451.13,69.00 L453.00,69.56 L454.88,70.12 L456.76,70.68 L458.64,71.25 L460.52,71.81 L462.40,72.37 L464.28,72.94 L466.16,73.51 L468.04,74.07 L469.91,74.64 L471.79,75.22 L473.67,75.79 L475.55,76.36 L477.43,76.94 L479.31,77.51 L481.19,78.09 L483.07,78.67 L484.95,79.25 L486.82,79.84 L488.70,80.42 L490.58,81.01 L492.46,81.60 L494.34,82.19 L496.22,82.79 L498.10,83.38 L499.98,83.98 L501.86,84.59 L503.73,85.19 L505.61,85.80 L507.49,86.41 L509.37,87.02 L511.25,87.64 L513.13,88.26 L515.01,88.88 L516.89,89.51 L518.77,90.14 L520.65,90.78 L522.52,91.42 L524.40,92.06 L526.28,92.71 L528.16,93.37 L530.04,94.03 L531.92,94.69 L533.80,95.36 L535.68,96.04 L537.56,96.73 L539.43,97.42 L541.31,98.11 L543.19,98.82 L545.07,99.53 L546.95,100.26 L548.83,100.99 L550.71,101.73 L552.59,102.48 L554.47,103.24 L556.34,104.01 L558.22,104.80 L560.10,105.59 L561.98,106.41 L563.86,107.23 L565.74,108.07 L567.62,108.93 L569.50,109.81 L571.38,110.70 L573.25,111.62 L575.13,112.55 L577.01,113.52 L578.89,114.50 L580.77,115.52 L582.65,116.56 L584.53,117.64 L586.41,118.76 L588.29,119.92 L590.16,121.12 L592.04,122.36 L593.92,123.67 L595.80,125.03 L597.68,126.46 L599.56,127.97 L601.44,129.57 L603.32,131.27 L605.20,133.09 L607.08,135.05 L608.95,137.17 L610.83,139.49 L612.71,142.06 L614.59,144.94 L614.59,144.94 L615.64,146.72 L616.61,148.49 L617.50,150.26 L618.33,152.02 L619.09,153.77 L619.79,155.52 L620.44,157.26" stroke="#000000" stroke-width="1.3" stroke-dasharray="4.4 4.35" stroke-dashoffset="1.7"/>
<path d="M620.44,157.26 L621.03,159.00 L621.58,160.74 L622.09,162.47 L622.55,164.20 L622.99,165.93 L623.38,167.65 L623.75,169.37 L624.09,171.09 L624.40,172.81 L624.69,174.53 L624.95,176.24 L625.20,177.95 L625.42,179.66 L625.63,181.37 L625.82,183.08 L626.00,184.79 L626.16,186.49 L626.31,188.20 L626.45,189.90 L626.58,191.60 L626.70,193.30 L626.81,195.01 L626.91,196.71 L627.00,198.41 L627.08,200.11 L627.16,201.81 L627.24,203.51 L627.30,205.20 L627.36,206.90 L627.42,208.60 L627.47,210.30 L627.52,211.99 L627.57,213.69 L627.61,215.39 L627.65,217.08 L627.68,218.78 L627.71,220.47 L627.74,222.17 L627.77,223.87 L627.80,225.56 L627.82,227.26 L627.84,228.95 L627.86,230.65 L627.88,232.34 L627.90,234.04 L627.91,235.73 L627.93,237.43 L627.94,239.12 L627.95,240.81 L627.96,242.51 L627.97,244.20" stroke="#000000" stroke-width="1.3" stroke-dasharray="5 5" stroke-dashoffset="0"/>
<path d="M391.00,56.14 L392.74,56.62 L394.48,57.10 L396.23,57.58 L397.97,58.06 L399.71,58.55 L401.45,59.03 L403.20,59.51 L404.94,60.00 L406.68,60.49 L408.42,60.97 L410.17,61.46 L411.91,61.95 L413.65,62.44 L415.39,62.93 L417.13,63.42 L418.88,63.92 L420.62,64.41 L422.36,64.90 L424.10,65.40 L425.85,65.90 L427.59,66.39 L429.33,66.89 L431.07,67.39 L432.81,67.89 L434.56,68.40 L436.30,68.90 L438.04,69.40 L439.78,69.91 L441.53,70.42 L443.27,70.93 L445.01,71.44 L446.75,71.95 L448.50,72.46 L450.24,72.98 L451.98,73.49 L453.72,74.01 L455.46,74.53 L457.21,75.05 L458.95,75.58 L460.69,76.10 L462.43,76.63 L464.18,77.16 L465.92,77.69 L467.66,78.22 L469.40,78.76 L471.14,79.30 L472.89,79.84 L474.63,80.38 L476.37,80.92 L478.11,81.47 L479.86,82.02 L481.60,82.57 L483.34,83.13 L485.08,83.69 L486.83,84.25 L488.57,84.81 L490.31,85.38 L492.05,85.95 L493.79,86.53 L495.54,87.11 L497.28,87.69 L499.02,88.27 L500.76,88.86 L502.51,89.46 L504.25,90.05 L505.99,90.66 L507.73,91.26 L509.47,91.87 L511.22,92.49 L512.96,93.11 L514.70,93.74 L516.44,94.37 L518.19,95.01 L519.93,95.65 L521.67,96.30 L523.41,96.96 L525.16,97.63 L526.90,98.30 L528.64,98.98 L530.38,99.66 L532.12,100.36 L533.87,101.06 L535.61,101.77 L537.35,102.50 L539.09,103.23 L540.84,103.97 L542.58,104.72 L544.32,105.49 L546.06,106.27 L547.80,107.06 L549.55,107.86 L551.29,108.68 L553.03,109.52 L554.77,110.37 L556.52,111.24 L558.26,112.12 L560.00,113.03 L561.74,113.96 L563.49,114.91 L565.23,115.89 L566.97,116.89 L568.71,117.93 L570.45,118.99 L572.20,120.09 L573.94,121.22 L575.68,122.40 L577.42,123.62 L579.17,124.89 L580.91,126.22 L582.65,127.61 L584.39,129.07 L586.13,130.60 L587.88,132.23 L589.62,133.96 L591.36,135.81 L593.10,137.81 L594.85,139.97 L596.59,142.34 L598.33,144.97 L598.33,144.97 L599.38,146.72 L600.35,148.44 L601.24,150.16 L602.07,151.87 L602.83,153.57 L603.53,155.27 L604.18,156.95 L604.77,158.63 L605.32,160.30 L605.83,161.97 L606.30,163.63 L606.73,165.28 L607.12,166.93 L607.49,168.58 L607.83,170.22 L608.14,171.86 L608.43,173.50 L608.69,175.13 L608.94,176.76 L609.16,178.39 L609.37,180.02 L609.56,181.64 L609.74,183.26 L609.90,184.88 L610.05,186.50 L610.19,188.12 L610.32,189.73 L610.44,191.35 L610.55,192.96 L610.65,194.57 L610.74,196.18 L610.82,197.79 L610.90,199.40 L610.98,201.01 L611.04,202.61 L611.10,204.22 L611.16,205.83 L611.21,207.43 L611.26,209.04 L611.31,210.64 L611.35,212.24 L611.39,213.85 L611.42,215.45 L611.45,217.05 L611.48,218.65 L611.51,220.26 L611.54,221.86 L611.56,223.46 L611.58,225.06 L611.60,226.66 L611.62,228.26 L611.64,229.86 L611.65,231.46 L611.67,233.06 L611.68,234.66 L611.69,236.26 L611.70,237.86 L611.71,239.46 L611.72,241.06 L611.73,242.66 L611.74,244.26" stroke="#000000" stroke-width="1.3"/>
</g>
<rect x="391.0" y="7.0" width="292.6" height="235.2" fill="none" stroke="#3a3a3a" stroke-width="1.2"/>
<path d="M391.00,242.2v-4M391.00,7.0v4M413.51,242.2v-2M413.51,7.0v2M436.02,242.2v-4M436.02,7.0v4M458.52,242.2v-2M458.52,7.0v2M481.03,242.2v-4M481.03,7.0v4M503.54,242.2v-2M503.54,7.0v2M526.05,242.2v-4M526.05,7.0v4M548.55,242.2v-2M548.55,7.0v2M571.06,242.2v-4M571.06,7.0v4M593.57,242.2v-2M593.57,7.0v2M616.08,242.2v-4M616.08,7.0v4M638.58,242.2v-2M638.58,7.0v2M661.09,242.2v-4M661.09,7.0v4M683.60,242.2v-2M683.60,7.0v2M391.0,242.20h4M683.6,242.20h-4M391.0,228.04h2M683.6,228.04h-2M391.0,219.76h2M683.6,219.76h-2M391.0,213.88h2M683.6,213.88h-2M391.0,209.32h2M683.6,209.32h-2M391.0,205.60h2M683.6,205.60h-2M391.0,202.45h2M683.6,202.45h-2M391.0,199.72h2M683.6,199.72h-2M391.0,197.31h2M683.6,197.31h-2M391.0,195.16h4M683.6,195.16h-4M391.0,181.00h2M683.6,181.00h-2M391.0,172.72h2M683.6,172.72h-2M391.0,166.84h2M683.6,166.84h-2M391.0,162.28h2M683.6,162.28h-2M391.0,158.56h2M683.6,158.56h-2M391.0,155.41h2M683.6,155.41h-2M391.0,152.68h2M683.6,152.68h-2M391.0,150.27h2M683.6,150.27h-2M391.0,148.12h4M683.6,148.12h-4M391.0,133.96h2M683.6,133.96h-2M391.0,125.68h2M683.6,125.68h-2M391.0,119.80h2M683.6,119.80h-2M391.0,115.24h2M683.6,115.24h-2M391.0,111.52h2M683.6,111.52h-2M391.0,108.37h2M683.6,108.37h-2M391.0,105.64h2M683.6,105.64h-2M391.0,103.23h2M683.6,103.23h-2M391.0,101.08h4M683.6,101.08h-4M391.0,86.92h2M683.6,86.92h-2M391.0,78.64h2M683.6,78.64h-2M391.0,72.76h2M683.6,72.76h-2M391.0,68.20h2M683.6,68.20h-2M391.0,64.48h2M683.6,64.48h-2M391.0,61.33h2M683.6,61.33h-2M391.0,58.60h2M683.6,58.60h-2M391.0,56.19h2M683.6,56.19h-2M391.0,54.04h4M683.6,54.04h-4M391.0,39.88h2M683.6,39.88h-2M391.0,31.60h2M683.6,31.60h-2M391.0,25.72h2M683.6,25.72h-2M391.0,21.16h2M683.6,21.16h-2M391.0,17.44h2M683.6,17.44h-2M391.0,14.29h2M683.6,14.29h-2M391.0,11.56h2M683.6,11.56h-2M391.0,9.15h2M683.6,9.15h-2M391.0,7.00h4M683.6,7.00h-4" stroke="#3a3a3a" stroke-width="1.0" fill="none"/>
<text x="391.00" y="256.3" font-family="Liberation Serif, serif" font-size="12" text-anchor="middle" fill="#1a1a1a">20</text>
<text x="436.02" y="256.3" font-family="Liberation Serif, serif" font-size="12" text-anchor="middle" fill="#1a1a1a">30</text>
<text x="481.03" y="256.3" font-family="Liberation Serif, serif" font-size="12" text-anchor="middle" fill="#1a1a1a">40</text>
<text x="526.05" y="256.3" font-family="Liberation Serif, serif" font-size="12" text-anchor="middle" fill="#1a1a1a">50</text>
<text x="571.06" y="256.3" font-family="Liberation Serif, serif" font-size="12" text-anchor="middle" fill="#1a1a1a">60</text>
<text x="616.08" y="256.3" font-family="Liberation Serif, serif" font-size="12" text-anchor="middle" fill="#1a1a1a">70</text>
<text x="661.09" y="256.3" font-family="Liberation Serif, serif" font-size="12" text-anchor="middle" fill="#1a1a1a">80</text>
<text x="386.1" y="246.90" font-family="Liberation Serif, serif" font-size="12" text-anchor="end" fill="#1a1a1a">10<tspan font-size="8" dy="-5.0">-5</tspan></text>
<text x="386.1" y="199.86" font-family="Liberation Serif, serif" font-size="12" text-anchor="end" fill="#1a1a1a">10<tspan font-size="8" dy="-5.0">-4</tspan></text>
<text x="386.1" y="152.82" font-family="Liberation Serif, serif" font-size="12" text-anchor="end" fill="#1a1a1a">10<tspan font-size="8" dy="-5.0">-3</tspan></text>
<text x="386.1" y="105.78" font-family="Liberation Serif, serif" font-size="12" text-anchor="end" fill="#1a1a1a">10<tspan font-size="8" dy="-5.0">-2</tspan></text>
<text x="386.1" y="58.74" font-family="Liberation Serif, serif" font-size="12" text-anchor="end" fill="#1a1a1a">10<tspan font-size="8" dy="-5.0">-1</tspan></text>
<text x="386.1" y="11.70" font-family="Liberation Serif, serif" font-size="12" text-anchor="end" fill="#1a1a1a">10<tspan font-size="8" dy="-5.0">0</tspan></text>
<text x="537.30" y="272.7" font-family="Liberation Serif, serif" font-size="12.2" text-anchor="middle" fill="#1a1a1a">Transmission Distance (km)</text>
<text transform="translate(359.0,124.6) rotate(-90)" font-family="Liberation Serif, serif" font-size="12.2" text-anchor="middle" fill="#1a1a1a">Secret Key Rate (bit/pulse)</text>
<text x="511.30" y="293.7" font-family="Liberation Serif, serif" font-size="12" text-anchor="middle" fill="#1a1a1a">(b)</text>
<path d="M574.1,17.60H599.6" stroke="#ff0000" stroke-width="1.3" stroke-dasharray="5.8 5"/>
<text x="601.6" y="21.20" font-family="Liberation Serif, serif" font-size="11" fill="#1a1a1a">K<tspan font-size="8" dy="3">e</tspan><tspan dy="-3">, I</tspan><tspan font-size="8" dy="3">ir</tspan><tspan dy="-3">=2 W/cm</tspan><tspan font-size="7.6" dy="-3.7">2</tspan></text>
<path d="M574.1,35.16H599.6" stroke="#ff0000" stroke-width="1.3"/>
<text x="601.6" y="38.76" font-family="Liberation Serif, serif" font-size="11" fill="#1a1a1a">K<tspan font-size="8" dy="3">p</tspan><tspan dy="-3">, I</tspan><tspan font-size="8" dy="3">ir</tspan><tspan dy="-3">=2 W/cm</tspan><tspan font-size="7.6" dy="-3.7">2</tspan></text>
<path d="M574.1,52.72H599.6" stroke="#0000ff" stroke-width="1.3" stroke-dasharray="5.8 5"/>
<text x="601.6" y="56.32" font-family="Liberation Serif, serif" font-size="11" fill="#1a1a1a">K<tspan font-size="8" dy="3">e</tspan><tspan dy="-3">, I</tspan><tspan font-size="8" dy="3">ir</tspan><tspan dy="-3">=30 W/cm</tspan><tspan font-size="7.6" dy="-3.7">2</tspan></text>
<path d="M574.1,70.28H599.6" stroke="#0000ff" stroke-width="1.3"/>
<text x="601.6" y="73.88" font-family="Liberation Serif, serif" font-size="11" fill="#1a1a1a">K<tspan font-size="8" dy="3">p</tspan><tspan dy="-3">, I</tspan><tspan font-size="8" dy="3">ir</tspan><tspan dy="-3">=30 W/cm</tspan><tspan font-size="7.6" dy="-3.7">2</tspan></text>
<path d="M574.1,87.84H599.6" stroke="#000000" stroke-width="1.3" stroke-dasharray="5.8 5"/>
<text x="601.6" y="91.44" font-family="Liberation Serif, serif" font-size="11" fill="#1a1a1a">K<tspan font-size="8" dy="3">e</tspan><tspan dy="-3">, I</tspan><tspan font-size="8" dy="3">ir</tspan><tspan dy="-3">=50 W/cm</tspan><tspan font-size="7.6" dy="-3.7">2</tspan></text>
<path d="M574.1,105.40H599.6" stroke="#000000" stroke-width="1.3"/>
<text x="601.6" y="109.00" font-family="Liberation Serif, serif" font-size="11" fill="#1a1a1a">K<tspan font-size="8" dy="3">p</tspan><tspan dy="-3">, I</tspan><tspan font-size="8" dy="3">ir</tspan><tspan dy="-3">=50 W/cm</tspan><tspan font-size="7.6" dy="-3.7">2</tspan></text>
</svg></body></html>
